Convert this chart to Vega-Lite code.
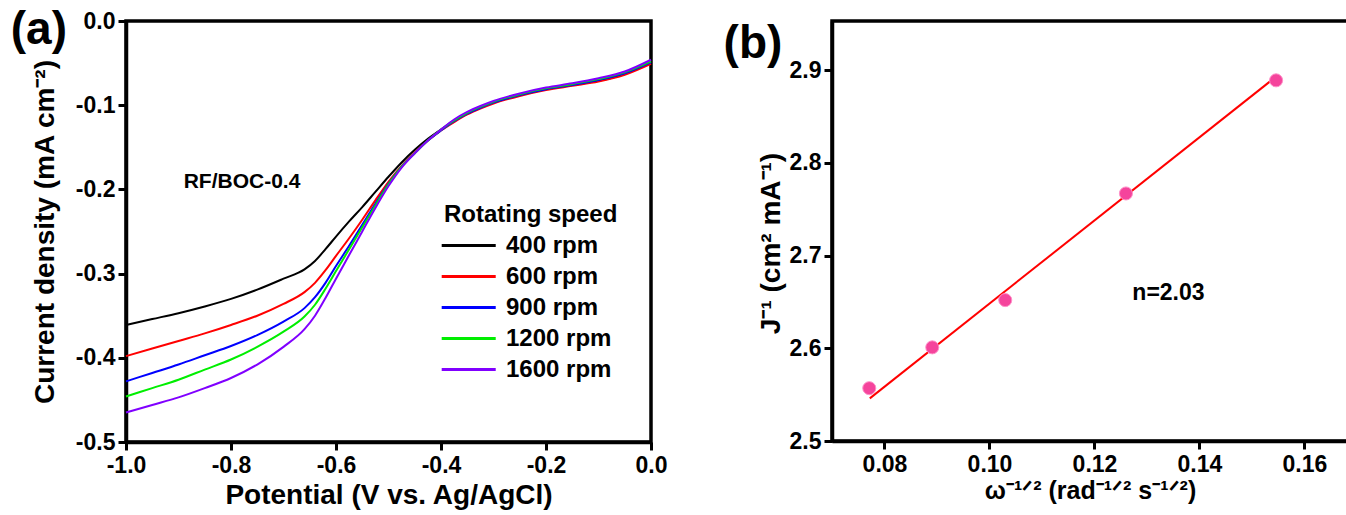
{
"$schema":"https://vega.github.io/schema/vega-lite/v6.json",
"background":"white",
"padding":{"left":8,"top":5,"right":0,"bottom":0},
"spacing":52,
"config":{"font":"Liberation Sans","view":{"stroke":"black","strokeWidth":3.5},
"axis":{"grid":false,"domainColor":"black","domainWidth":3.5,"tickColor":"black","tickWidth":3,"tickSize":8,"labelColor":"black","labelFontSize":23,"labelFontWeight":"bold","titleFontWeight":"bold","titleColor":"black","labelFont":"Liberation Sans","titleFont":"Liberation Sans"}},
"datasets":{
"lsv":[
{"s":"400 rpm","v":-1.0,"j":-0.361},{"s":"400 rpm","v":-0.95,"j":-0.354},{"s":"400 rpm","v":-0.9,"j":-0.347},{"s":"400 rpm","v":-0.85,"j":-0.339},{"s":"400 rpm","v":-0.8,"j":-0.330},{"s":"400 rpm","v":-0.75,"j":-0.319},{"s":"400 rpm","v":-0.7,"j":-0.306},{"s":"400 rpm","v":-0.66,"j":-0.295},{"s":"400 rpm","v":-0.64,"j":-0.285},{"s":"400 rpm","v":-0.62,"j":-0.271},{"s":"400 rpm","v":-0.6,"j":-0.256},{"s":"400 rpm","v":-0.575,"j":-0.238},{"s":"400 rpm","v":-0.55,"j":-0.221},{"s":"400 rpm","v":-0.525,"j":-0.203},{"s":"400 rpm","v":-0.5,"j":-0.185},{"s":"400 rpm","v":-0.475,"j":-0.168},{"s":"400 rpm","v":-0.45,"j":-0.153},{"s":"400 rpm","v":-0.425,"j":-0.140},{"s":"400 rpm","v":-0.4,"j":-0.129},{"s":"400 rpm","v":-0.375,"j":-0.119},{"s":"400 rpm","v":-0.35,"j":-0.110},{"s":"400 rpm","v":-0.325,"j":-0.103},{"s":"400 rpm","v":-0.3,"j":-0.097},{"s":"400 rpm","v":-0.25,"j":-0.088},{"s":"400 rpm","v":-0.2,"j":-0.081},{"s":"400 rpm","v":-0.15,"j":-0.076},{"s":"400 rpm","v":-0.1,"j":-0.071},{"s":"400 rpm","v":-0.05,"j":-0.063},{"s":"400 rpm","v":0.0,"j":-0.048},
{"s":"600 rpm","v":-1.0,"j":-0.398},{"s":"600 rpm","v":-0.95,"j":-0.389},{"s":"600 rpm","v":-0.9,"j":-0.380},{"s":"600 rpm","v":-0.85,"j":-0.371},{"s":"600 rpm","v":-0.8,"j":-0.361},{"s":"600 rpm","v":-0.75,"j":-0.350},{"s":"600 rpm","v":-0.7,"j":-0.336},{"s":"600 rpm","v":-0.66,"j":-0.322},{"s":"600 rpm","v":-0.64,"j":-0.311},{"s":"600 rpm","v":-0.62,"j":-0.296},{"s":"600 rpm","v":-0.6,"j":-0.279},{"s":"600 rpm","v":-0.575,"j":-0.258},{"s":"600 rpm","v":-0.55,"j":-0.236},{"s":"600 rpm","v":-0.525,"j":-0.213},{"s":"600 rpm","v":-0.5,"j":-0.191},{"s":"600 rpm","v":-0.475,"j":-0.172},{"s":"600 rpm","v":-0.45,"j":-0.156},{"s":"600 rpm","v":-0.425,"j":-0.142},{"s":"600 rpm","v":-0.4,"j":-0.130},{"s":"600 rpm","v":-0.375,"j":-0.120},{"s":"600 rpm","v":-0.35,"j":-0.111},{"s":"600 rpm","v":-0.325,"j":-0.104},{"s":"600 rpm","v":-0.3,"j":-0.098},{"s":"600 rpm","v":-0.25,"j":-0.089},{"s":"600 rpm","v":-0.2,"j":-0.082},{"s":"600 rpm","v":-0.15,"j":-0.077},{"s":"600 rpm","v":-0.1,"j":-0.072},{"s":"600 rpm","v":-0.05,"j":-0.064},{"s":"600 rpm","v":0.0,"j":-0.051},
{"s":"900 rpm","v":-1.0,"j":-0.428},{"s":"900 rpm","v":-0.95,"j":-0.418},{"s":"900 rpm","v":-0.9,"j":-0.408},{"s":"900 rpm","v":-0.85,"j":-0.397},{"s":"900 rpm","v":-0.8,"j":-0.386},{"s":"900 rpm","v":-0.75,"j":-0.373},{"s":"900 rpm","v":-0.7,"j":-0.357},{"s":"900 rpm","v":-0.66,"j":-0.341},{"s":"900 rpm","v":-0.64,"j":-0.328},{"s":"900 rpm","v":-0.62,"j":-0.311},{"s":"900 rpm","v":-0.6,"j":-0.291},{"s":"900 rpm","v":-0.575,"j":-0.267},{"s":"900 rpm","v":-0.55,"j":-0.242},{"s":"900 rpm","v":-0.525,"j":-0.217},{"s":"900 rpm","v":-0.5,"j":-0.193},{"s":"900 rpm","v":-0.475,"j":-0.173},{"s":"900 rpm","v":-0.45,"j":-0.157},{"s":"900 rpm","v":-0.425,"j":-0.142},{"s":"900 rpm","v":-0.4,"j":-0.130},{"s":"900 rpm","v":-0.375,"j":-0.119},{"s":"900 rpm","v":-0.35,"j":-0.110},{"s":"900 rpm","v":-0.325,"j":-0.103},{"s":"900 rpm","v":-0.3,"j":-0.097},{"s":"900 rpm","v":-0.25,"j":-0.088},{"s":"900 rpm","v":-0.2,"j":-0.081},{"s":"900 rpm","v":-0.15,"j":-0.076},{"s":"900 rpm","v":-0.1,"j":-0.070},{"s":"900 rpm","v":-0.05,"j":-0.062},{"s":"900 rpm","v":0.0,"j":-0.049},
{"s":"1200 rpm","v":-1.0,"j":-0.446},{"s":"1200 rpm","v":-0.95,"j":-0.436},{"s":"1200 rpm","v":-0.9,"j":-0.426},{"s":"1200 rpm","v":-0.85,"j":-0.414},{"s":"1200 rpm","v":-0.8,"j":-0.402},{"s":"1200 rpm","v":-0.75,"j":-0.387},{"s":"1200 rpm","v":-0.7,"j":-0.369},{"s":"1200 rpm","v":-0.66,"j":-0.351},{"s":"1200 rpm","v":-0.64,"j":-0.337},{"s":"1200 rpm","v":-0.62,"j":-0.318},{"s":"1200 rpm","v":-0.6,"j":-0.297},{"s":"1200 rpm","v":-0.575,"j":-0.271},{"s":"1200 rpm","v":-0.55,"j":-0.245},{"s":"1200 rpm","v":-0.525,"j":-0.219},{"s":"1200 rpm","v":-0.5,"j":-0.194},{"s":"1200 rpm","v":-0.475,"j":-0.173},{"s":"1200 rpm","v":-0.45,"j":-0.157},{"s":"1200 rpm","v":-0.425,"j":-0.142},{"s":"1200 rpm","v":-0.4,"j":-0.129},{"s":"1200 rpm","v":-0.375,"j":-0.118},{"s":"1200 rpm","v":-0.35,"j":-0.109},{"s":"1200 rpm","v":-0.325,"j":-0.102},{"s":"1200 rpm","v":-0.3,"j":-0.096},{"s":"1200 rpm","v":-0.25,"j":-0.087},{"s":"1200 rpm","v":-0.2,"j":-0.080},{"s":"1200 rpm","v":-0.15,"j":-0.075},{"s":"1200 rpm","v":-0.1,"j":-0.069},{"s":"1200 rpm","v":-0.05,"j":-0.061},{"s":"1200 rpm","v":0.0,"j":-0.048},
{"s":"1600 rpm","v":-1.0,"j":-0.465},{"s":"1600 rpm","v":-0.95,"j":-0.456},{"s":"1600 rpm","v":-0.9,"j":-0.447},{"s":"1600 rpm","v":-0.85,"j":-0.436},{"s":"1600 rpm","v":-0.8,"j":-0.424},{"s":"1600 rpm","v":-0.75,"j":-0.408},{"s":"1600 rpm","v":-0.7,"j":-0.387},{"s":"1600 rpm","v":-0.66,"j":-0.366},{"s":"1600 rpm","v":-0.64,"j":-0.350},{"s":"1600 rpm","v":-0.62,"j":-0.329},{"s":"1600 rpm","v":-0.6,"j":-0.306},{"s":"1600 rpm","v":-0.575,"j":-0.278},{"s":"1600 rpm","v":-0.55,"j":-0.250},{"s":"1600 rpm","v":-0.525,"j":-0.222},{"s":"1600 rpm","v":-0.5,"j":-0.196},{"s":"1600 rpm","v":-0.475,"j":-0.174},{"s":"1600 rpm","v":-0.45,"j":-0.157},{"s":"1600 rpm","v":-0.425,"j":-0.142},{"s":"1600 rpm","v":-0.4,"j":-0.129},{"s":"1600 rpm","v":-0.375,"j":-0.117},{"s":"1600 rpm","v":-0.35,"j":-0.108},{"s":"1600 rpm","v":-0.325,"j":-0.101},{"s":"1600 rpm","v":-0.3,"j":-0.095},{"s":"1600 rpm","v":-0.25,"j":-0.086},{"s":"1600 rpm","v":-0.2,"j":-0.079},{"s":"1600 rpm","v":-0.15,"j":-0.074},{"s":"1600 rpm","v":-0.1,"j":-0.068},{"s":"1600 rpm","v":-0.05,"j":-0.060},{"s":"1600 rpm","v":0.0,"j":-0.046}
],
"labA":[{"t":"(a)","v":-1.166,"j":-0.0273,"size":46},{"t":"RF/BOC-0.4","v":-0.779,"j":-0.198,"size":21}],
"kl":[{"w":0.0771,"inv":2.557},{"w":0.0891,"inv":2.601},{"w":0.1030,"inv":2.652},{"w":0.1260,"inv":2.767},{"w":0.1546,"inv":2.889}],
"fit":[{"w":0.0772,"inv":2.546},{"w":0.1546,"inv":2.893}],
"labB":[{"t":"(b)","w":0.05495,"inv":2.928,"size":46,"base":"alphabetic"},{"t":"n=2.03","w":0.1341,"inv":2.6596,"size":23,"base":"middle"}]
},
"hconcat":[
{"width":525,"height":421,
"layer":[
{"data":{"name":"lsv"},"mark":{"type":"line","strokeWidth":2,"interpolate":"monotone"},
"encoding":{
"x":{"field":"v","type":"quantitative","scale":{"domain":[-1,0],"nice":false,"zero":false},
"axis":{"values":[-1,-0.8,-0.6,-0.4,-0.2,0],"labelExpr":"replace(format(datum.value,'.1f'),'\u2212','-')","title":"Potential (V vs. Ag/AgCl)","titleFontSize":28,"labelPadding":4,"titlePadding":4,"labelFlush":false}},
"y":{"field":"j","type":"quantitative","scale":{"domain":[-0.5,0],"nice":false,"zero":false},
"axis":{"values":[0,-0.1,-0.2,-0.3,-0.4,-0.5],"labelExpr":"replace(format(datum.value,'.1f'),'\u2212','-')","title":"Current density (mA cm\u207b\u00b2)","titleFontSize":28,"labelPadding":3,"titlePadding":16,"labelFlush":false}},
"color":{"field":"s","type":"nominal","sort":["400 rpm","600 rpm","900 rpm","1200 rpm","1600 rpm"],
"scale":{"domain":["400 rpm","600 rpm","900 rpm","1200 rpm","1600 rpm"],"range":["#000000","#ff0000","#0000ff","#00ee00","#8000ff"]},
"legend":{"orient":"none","legendX":318,"legendY":182,"title":"Rotating speed","titleFontSize":24,"titleFontWeight":"bold","titleColor":"black","labelFontSize":24,"labelFontWeight":"bold","labelColor":"black","symbolType":"M-1.37,0H3.63","symbolSize":467,"symbolStrokeWidth":3,"rowPadding":6,"labelOffset":37,"titlePadding":6}}
}},
{"data":{"name":"labA"},"mark":{"type":"text","fontWeight":"bold","color":"black","align":"center","baseline":"alphabetic"},
"encoding":{"x":{"field":"v","type":"quantitative"},"y":{"field":"j","type":"quantitative"},"text":{"field":"t"},"size":{"field":"size","type":"quantitative","scale":null}}}
]},
{"width":516,"height":420,
"layer":[
{"data":{"name":"fit"},"mark":{"type":"line","color":"#ff0000","strokeWidth":2},
"encoding":{
"x":{"field":"w","type":"quantitative","scale":{"domain":[0.07,0.1683],"nice":false,"zero":false},
"axis":{"values":[0.08,0.10,0.12,0.14,0.16],"format":".2f","title":"\u03c9\u207b\u00b9\u141f\u00b2 (rad\u207b\u00b9\u141f\u00b2 s\u207b\u00b9\u141f\u00b2)","titleFontSize":25,"labelPadding":4,"titlePadding":2,"labelFlush":false}},
"y":{"field":"inv","type":"quantitative","scale":{"domain":[2.5,2.953],"nice":false,"zero":false},
"axis":{"values":[2.5,2.6,2.7,2.8,2.9],"format":".1f","title":"J\u207b\u00b9 (cm\u00b2 mA\u207b\u00b9)","titleFontSize":28,"titleY":222,"labelPadding":3,"titlePadding":4,"labelFlush":false}}
}},
{"data":{"name":"kl"},"mark":{"type":"point","filled":true,"shape":"circle","size":170,"color":"#f5449c","opacity":1,"stroke":"#ff8fc8","strokeWidth":1},
"encoding":{"x":{"field":"w","type":"quantitative"},"y":{"field":"inv","type":"quantitative"}}},
{"data":{"name":"labB"},"mark":{"type":"text","fontWeight":"bold","color":"black","align":"center"},
"encoding":{"x":{"field":"w","type":"quantitative"},"y":{"field":"inv","type":"quantitative"},"text":{"field":"t"},"size":{"field":"size","type":"quantitative","scale":null},"baseline":{"field":"base"}}}
]}
]
}
